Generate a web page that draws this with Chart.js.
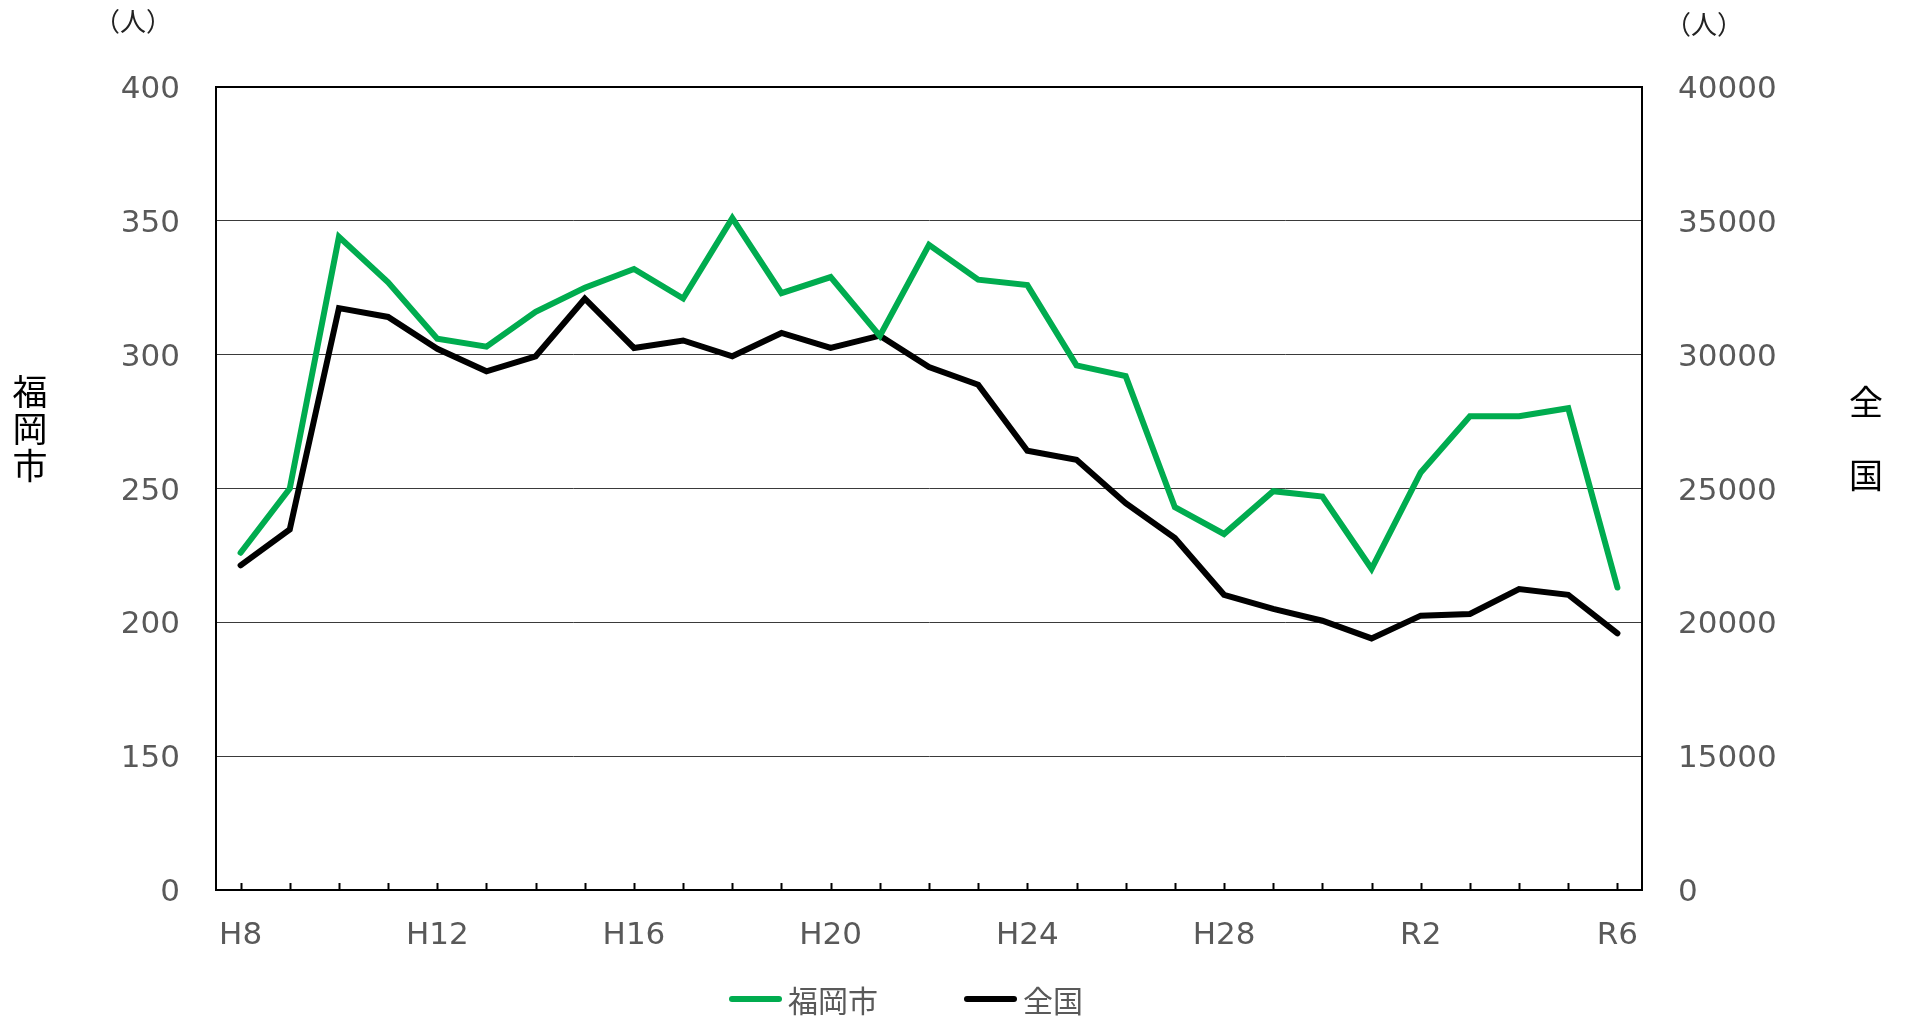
<!DOCTYPE html>
<html lang="ja">
<head>
<meta charset="utf-8">
<script src="https://cdn.jsdelivr.net/npm/chart.js@4.4.1/dist/chart.umd.min.js"></script>
<style>
  html, body { margin: 0; padding: 0; background: #fff; }
  #wrap { position: relative; width: 1906px; height: 1020px; }
  #legend {
    position: absolute; left: 729px; top: 979px; height: 40px;
    display: flex; align-items: center;
    font-family: 'Noto Sans CJK JP', 'Noto Sans', sans-serif;
    font-size: 30px; color: #595959;
  }
  .item { display: flex; align-items: center; margin-right: 86px; }
  .swatch { width: 53px; height: 6px; border-radius: 3px; margin-right: 6px; }
</style>
</head>
<body>
<div id="wrap">
  <canvas id="chart" width="1906" height="1020"></canvas>
  <div id="legend"></div>
</div>
<script>
// 年度（H8〜R6）
const years = ['H8','H9','H10','H11','H12','H13','H14','H15','H16','H17','H18','H19','H20',
  'H21','H22','H23','H24','H25','H26','H27','H28','H29','H30','R1','R2','R3','R4','R5','R6'];

// 福岡市（左軸）
const fukuoka = [226, 250, 344, 327, 306, 303, 316, 325, 332, 321, 351, 323, 329,
  307, 341, 328, 326, 296, 292, 243, 233, 249, 247, 220, 256, 277, 277, 280, 213];

// 全国（右軸）
const zenkoku = [22130, 23470, 31740, 31410, 30220, 29380, 29940, 32090, 30250, 30530, 29940, 30810, 30250,
  30710, 29540, 28880, 26410, 26070, 24450, 23150, 21030, 20500, 20060, 19400, 20250, 20310, 21240, 21030, 19590];

// 軸の目盛り（一番下は「0」と表示）
const leftTicks = [100, 150, 200, 250, 300, 350, 400];
const rightTicks = [10000, 15000, 20000, 25000, 30000, 35000, 40000];

const FONT = "'Noto Sans CJK JP', 'Noto Sans', sans-serif";
const TICK_FONT = "'DejaVu Sans', 'Noto Sans CJK JP', sans-serif";
const GREEN = '#00ac4f';

// 軸タイトルと単位、x軸の内向き目盛り
const extraDraw = {
  id: 'extraDraw',
  afterDraw(chart) {
    const ctx = chart.ctx;
    const area = chart.chartArea;
    const xs = chart.scales.x;
    ctx.save();
    ctx.strokeStyle = '#000';
    ctx.lineWidth = 2;
    years.forEach((_, i) => {
      const px = Math.round(xs.getPixelForValue(i)) + 0.5;
      ctx.beginPath();
      ctx.moveTo(px, area.bottom);
      ctx.lineTo(px, area.bottom - 7);
      ctx.stroke();
    });

    ctx.fillStyle = '#222';
    ctx.textAlign = 'center';
    ctx.textBaseline = 'middle';
    ctx.font = '26px ' + FONT;
    ctx.fillText('（人）', 133, 21);
    ctx.fillText('（人）', 1704, 24);

    ctx.fillStyle = '#000';
    ctx.font = '35px ' + FONT;
    ['福', '岡', '市'].forEach((c, i) => ctx.fillText(c, 30, 392 + i * 37));
    ctx.font = '34px ' + FONT;
    ['全', '国'].forEach((c, i) => ctx.fillText(c, 1866, 402 + i * 73));
    ctx.restore();
  }
};

const tickLabel = v => (v === 100 || v === 10000) ? '0' : String(v);

const chart = new Chart(document.getElementById('chart').getContext('2d'), {
  type: 'line',
  data: {
    labels: years,
    datasets: [
      {
        label: '福岡市',
        data: fukuoka,
        borderColor: GREEN,
        backgroundColor: GREEN,
        borderWidth: 6,
        pointRadius: 0,
        tension: 0,
        borderJoinStyle: 'miter',
        borderCapStyle: 'round',
        yAxisID: 'y'
      },
      {
        label: '全国',
        data: zenkoku,
        borderColor: '#000',
        backgroundColor: '#000',
        borderWidth: 6,
        pointRadius: 0,
        tension: 0,
        borderJoinStyle: 'miter',
        borderCapStyle: 'round',
        yAxisID: 'y1'
      }
    ]
  },
  options: {
    responsive: false,
    animation: false,
    layout: { padding: { top: 87, left: 0, right: 0, bottom: 0 } },
    plugins: {
      legend: { display: false },
      tooltip: { enabled: false }
    },
    scales: {
      x: {
        offset: true,
        grid: { display: false },
        border: { display: true, color: '#000', width: 2 },
        ticks: {
          autoSkip: false,
          maxRotation: 0,
          padding: 19,
          color: '#595959',
          font: { family: TICK_FONT, size: 31 },
          callback: (v, i) => (i % 4 === 0 ? years[i] : '')
        },
        afterFit: s => { s.height = 130; }
      },
      y: {
        position: 'left',
        min: leftTicks[0],
        max: leftTicks[leftTicks.length - 1],
        afterBuildTicks: s => { s.ticks = leftTicks.map(v => ({ value: v })); },
        grid: {
          drawTicks: false,
          color: ctx => ctx.tick && ctx.tick.value === 400 ? '#000' : '#3a3a3a',
          lineWidth: ctx => ctx.tick && ctx.tick.value === 400 ? 2 : 1
        },
        border: { display: true, color: '#000', width: 2 },
        ticks: {
          padding: 36,
          labelOffset: 3,
          color: '#595959',
          font: { family: TICK_FONT, size: 31 },
          callback: tickLabel
        },
        afterFit: s => { s.width = 216; }
      },
      y1: {
        position: 'right',
        min: rightTicks[0],
        max: rightTicks[rightTicks.length - 1],
        afterBuildTicks: s => { s.ticks = rightTicks.map(v => ({ value: v })); },
        grid: { drawOnChartArea: false, drawTicks: false },
        border: { display: true, color: '#000', width: 2 },
        ticks: {
          padding: 36,
          labelOffset: 3,
          color: '#595959',
          font: { family: TICK_FONT, size: 31 },
          callback: tickLabel
        },
        afterFit: s => { s.width = 264; }
      }
    }
  },
  plugins: [extraDraw]
});

// 凡例（データセットから作成）
const legend = document.getElementById('legend');
chart.data.datasets.forEach(ds => {
  const item = document.createElement('div');
  item.className = 'item';
  const sw = document.createElement('span');
  sw.className = 'swatch';
  sw.style.background = ds.borderColor;
  const txt = document.createElement('span');
  txt.textContent = ds.label;
  item.appendChild(sw);
  item.appendChild(txt);
  legend.appendChild(item);
});
</script>
</body>
</html>
